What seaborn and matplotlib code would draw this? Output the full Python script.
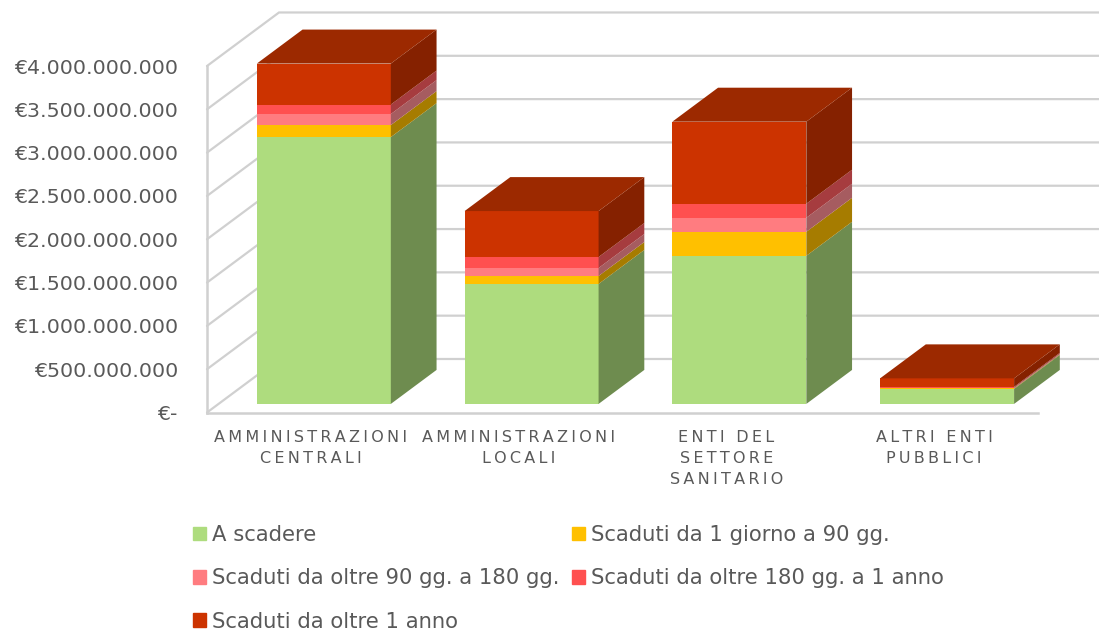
import numpy as np
import matplotlib
matplotlib.use('Agg')
import matplotlib.pyplot as plt
from matplotlib.patches import Patch, Polygon
import seaborn as sns

categories = ['AMMINISTRAZIONI\nCENTRALI', 'AMMINISTRAZIONI\nLOCALI', 'ENTI DEL\nSETTORE\nSANITARIO', 'ALTRI ENTI\nPUBBLICI']
series_names = ['A scadere', 'Scaduti da 1 giorno a 90 gg.', 'Scaduti da oltre 90 gg. a 180 gg.',
                'Scaduti da oltre 180 gg. a 1 anno', 'Scaduti da oltre 1 anno']
a_scadere = [3.08e9, 1.385e9, 1.71e9, 0.173e9]
da_1_a_90 = [0.139e9, 0.092e9, 0.277e9, 0.006e9]
da_90_a_180 = [0.127e9, 0.092e9, 0.162e9, 0.006e9]
da_180_a_1a = [0.11e9, 0.127e9, 0.162e9, 0.012e9]
oltre_1a = [0.473e9, 0.53e9, 0.947e9, 0.098e9]
y_ticks = [0, 5e8, 1e9, 1.5e9, 2e9, 2.5e9, 3e9, 3.5e9, 4e9]
y_labels = ['€-', '€500.000.000', '€1.000.000.000', '€1.500.000.000', '€2.000.000.000',
            '€2.500.000.000', '€3.000.000.000', '€3.500.000.000', '€4.000.000.000']

front_colors = ['#AEDC7E', '#FFC000', '#FF7C80', '#FF5050', '#CC3300']
side_colors = ['#6E8C4F', '#A67C00', '#A65C60', '#A63C3F', '#852100']
top_color = '#9C2900'
grid_color = '#D0D0D0'
text_color = '#595959'

W, H = 1099, 630

# profondita' del finto 3d, in unita' dei dati
dep_x = 72 / 207.75
dep_y = 53.5 / 86.6 * 1e9
d0 = 0.18
d1 = 0.815
sink = 0.012e9  # le barre stanno un filo piu' in basso del piano
bar_w = 0.645


def pt(x, y, d):
    return (x + d * dep_x, y + d * dep_y)


def bar_pt(x, y, d):
    return (x + d * dep_x, y + d * dep_y - sink)


sns.set_theme(style='white')
plt.rcParams['font.family'] = ['DejaVu Sans']

fig = plt.figure(figsize=(W / 100, H / 100), dpi=100)
ax = fig.add_axes([207 / W, (H - 412.5) / H, (1038 - 207) / W, (412.5 - 66) / H])

all_series = [a_scadere, da_1_a_90, da_90_a_180, da_180_a_1a, oltre_1a]
xs = np.arange(len(categories))
labels_sp = ['\n'.join('\u2009'.join(r) for r in c.split('\n')) for c in categories]

bottom = np.zeros(len(categories))
bottoms = []
for vals, col in zip(all_series, front_colors):
    sns.barplot(x=labels_sp, y=vals, bottom=bottom, color=col, saturation=1, width=bar_w, ax=ax)
    bottoms.append(bottom.copy())
    bottom = bottom + np.array(vals)

# sposto le barre sul piano interno
for p in ax.patches:
    p.set_x(p.get_x() + d0 * dep_x)
    p.set_y(p.get_y() + d0 * dep_y - sink)
    p.set_clip_on(False)
    p.set_zorder(2)
    p.set_edgecolor('none')
    p.set_linewidth(0)

# facce laterali e superiore
for k, vals in enumerate(all_series):
    for i, v in enumerate(vals):
        x1 = xs[i] + bar_w / 2
        b = bottoms[k][i]
        side = [bar_pt(x1, b, d0), bar_pt(x1, b + v, d0), bar_pt(x1, b + v, d1), bar_pt(x1, b, d1)]
        ax.add_patch(Polygon(side, closed=True, fc=side_colors[k], ec='none', clip_on=False, zorder=2))
for i, tot in enumerate(bottom):
    x0, x1 = xs[i] - bar_w / 2, xs[i] + bar_w / 2
    top = [bar_pt(x0, tot, d0), bar_pt(x1, tot, d0), bar_pt(x1, tot, d1), bar_pt(x0, tot, d1)]
    ax.add_patch(Polygon(top, closed=True, fc=top_color, ec='none', clip_on=False, zorder=2))

# pareti e griglia
for t in y_ticks:
    a, b = pt(-0.5, t, 0), pt(-0.5, t, 1)
    c = pt(3.5, t, 1)
    ax.plot([a[0], b[0], c[0]], [a[1], b[1], c[1]], color=grid_color, lw=1.6, clip_on=False, zorder=0.5,
            solid_joinstyle='miter')

ax.set_xlim(-0.5, 3.5)
ax.set_ylim(0, 4e9)
ax.set_yticks(y_ticks)
ax.set_yticklabels(y_labels)
ax.set_xlabel('')
ax.set_ylabel('')
ax.tick_params(axis='y', length=0, pad=21, labelsize=14.75, labelcolor=text_color)
ax.tick_params(axis='x', length=0, pad=12.5, labelsize=11.5, labelcolor=text_color)
for lab in ax.get_xticklabels():
    lab.set_linespacing(1.5)
ax.patch.set_alpha(0)
for s in ['top', 'right']:
    ax.spines[s].set_visible(False)
for s in ['left', 'bottom']:
    ax.spines[s].set_color(grid_color)
    ax.spines[s].set_linewidth(1.8)
    ax.spines[s].set_zorder(0.6)

# legenda: due colonne, riempite per colonna
order = [0, 2, 4, 1, 3]
handles = [Patch(color=front_colors[j], label=series_names[j]) for j in order]
fig.legend(handles=handles, loc='lower left', bbox_to_anchor=(193 / W, -1.5 / H), ncol=2, frameon=False,
           fontsize=15.2, labelcolor=text_color, handlelength=0.62, handleheight=0.62, handletextpad=0.29,
           labelspacing=1.10, columnspacing=0.59, borderpad=0, borderaxespad=0)

fig.savefig('out.png', dpi=100)
